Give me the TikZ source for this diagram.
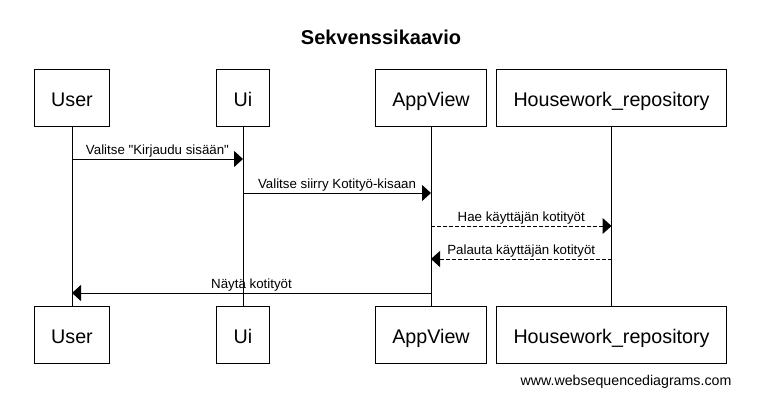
\documentclass[tikz,border=0pt]{standalone}
\usepackage{fontspec}
\setmainfont{Liberation Sans}[Ligatures=TeXOff]
\usetikzlibrary{arrows.meta}

\begin{document}
\begin{tikzpicture}[x=1pt, y=-1pt,
    actor/.style={draw, line width=1pt, minimum height=57pt, inner xsep=17pt, text height=17pt, text depth=0pt, font=\fontsize{19.7}{22}\selectfont},
    msg/.style={line width=1pt, -{Triangle[length=9pt,width=16pt]}},
    reply/.style={msg, dash pattern=on 4pt off 2pt},
    lbl/.style={above, inner sep=1.5pt, font=\fontsize{13.3}{15}\selectfont}]

    \useasboundingbox (0,0) rectangle (772,418);

    \node [font=\bfseries\fontsize{20}{24}\selectfont] (title) at (381,37) {Sekvenssikaavio};

    % participants, top
    \node [actor] (user) at (72,97.5) {User};
    \node [actor] (ui) at (243,97.5) {Ui};
    \node [actor] (appview) at (431,97.5) {AppView};
    \node [actor] (repo) at (611.5,97.5) {Housework\_repository};

    % participants, bottom
    \node [actor] (userB) at (72,334.5) {User};
    \node [actor] (uiB) at (243,334.5) {Ui};
    \node [actor] (appviewB) at (431,334.5) {AppView};
    \node [actor] (repoB) at (611.5,334.5) {Housework\_repository};

    % lifelines
    \draw [line width=1pt] (user) -- (userB);
    \draw [line width=1pt] (ui) -- (uiB);
    \draw [line width=1pt] (appview) -- (appviewB);
    \draw [line width=1pt] (repo) -- (repoB);

    % messages
    \draw [msg] (user |- 0,159) -- node [lbl] {Valitse "Kirjaudu sisään"} (ui |- 0,159);
    \draw [msg] (ui |- 0,193) -- node [lbl] {Valitse siirry Kotityö-kisaan} (appview |- 0,193);
    \draw [reply] (appview |- 0,226) -- node [lbl] {Hae käyttäjän kotityöt} (repo |- 0,226);
    \draw [reply] (repo |- 0,259) -- node [lbl] {Palauta käyttäjän kotityöt} (appview |- 0,259);
    \draw [msg] (appview |- 0,293) -- node [lbl] {Näytä kotityöt} (user |- 0,293);

    \node [font=\fontsize{14.2}{16}\selectfont] (footer) at (626,382) {www.websequencediagrams.com};

\end{tikzpicture}
\end{document}
